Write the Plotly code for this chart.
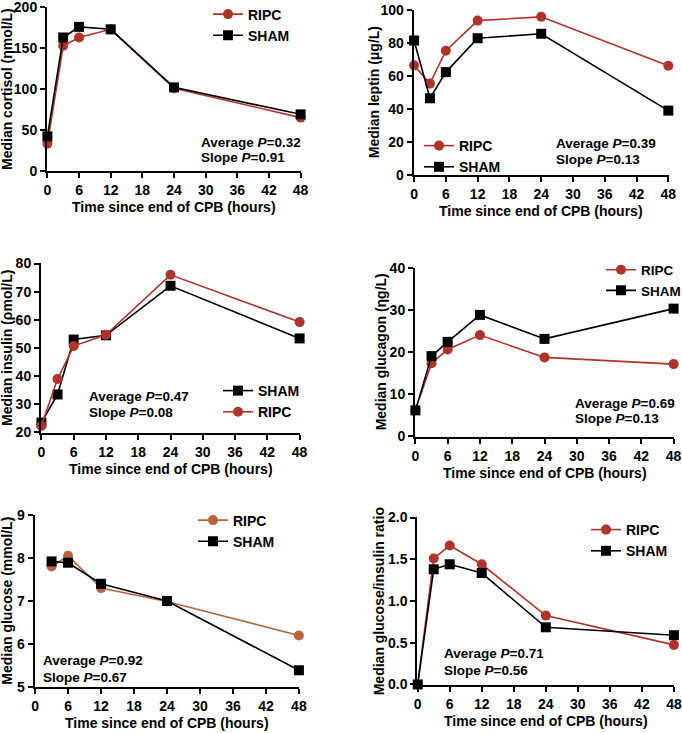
import plotly.graph_objects as go

W, H = 682, 733

# ---------------- data ----------------
hours = [0, 3, 6, 12, 24, 48]
glucose_hours = [3, 6, 12, 24, 48]
x_ticks = [0, 6, 12, 18, 24, 30, 36, 42, 48]

cortisol_ripc = [33, 153, 163, 173, 101, 65]
cortisol_sham = [42, 163, 176, 173, 102, 69]
leptin_ripc = [66.5, 55.4, 75.4, 93.7, 96, 66.3]
leptin_sham = [81.6, 46.5, 62.4, 83, 85.7, 39]
insulin_ripc = [22.4, 39.0, 50.7, 54.7, 76, 59.2]
insulin_sham = [23.5, 33.5, 53, 54.5, 72.1, 53.4]
glucagon_ripc = [6.3, 17.4, 20.7, 24.1, 18.8, 17.2]
glucagon_sham = [6.2, 19.1, 22.5, 28.9, 23.2, 30.4]
glucose_ripc = [7.80, 8.05, 7.30, 6.99, 6.20]
glucose_sham = [7.92, 7.89, 7.40, 7.00, 5.39]
ratio_ripc = [0, 1.51, 1.665, 1.44, 0.825, 0.474]
ratio_sham = [0, 1.38, 1.44, 1.335, 0.685, 0.59]

cortisol_ticks = [0, 50, 100, 150, 200]
leptin_ticks = [0, 20, 40, 60, 80, 100]
insulin_ticks = [20, 30, 40, 50, 60, 70, 80]
glucagon_ticks = [0, 10, 20, 30, 40]
glucose_ticks = [5, 6, 7, 8, 9]
ratio_ticks = [0.0, 0.5, 1.0, 1.5, 2.0]

y_titles = ["Median cortisol (\u03b7mol/L)", "Median leptin (\u03bcg/L)",
            "Median insulin (\u03c1mol/L)", "Median glucagon (\u03b7g/L)",
            "Median glucose (mmol/L)", "Median glucose/insulin ratio"]
x_title = "Time since end of CPB (hours)"
avg_p = ["0.32", "0.39", "0.47", "0.69", "0.92", "0.71"]
slope_p = ["0.91", "0.13", "0.08", "0.13", "0.67", "0.56"]

RED = "#B0332A"
BROWN = "#B9643F"
BLACK = "#000000"
FONT = "Liberation Sans"

# ---------------- layout boxes (pixels) ----------------
panels = [
    dict(box=(47, 301, 7, 171), yt=cortisol_ticks, fmt="", x=hours,
         ripc=cortisol_ripc, sham=cortisol_sham, rc=RED, order="RS",
         leg=(208, -1.5), lfs=14, txt=(199, 142, 157), ytoff=40),
    dict(box=(413.7, 668.7, 10, 175), yt=leptin_ticks, fmt="", x=hours,
         ripc=leptin_ripc, sham=leptin_sham, rc=RED, order="RS",
         leg=(419, 130), lfs=14, txt=(554, 144, 159), ytoff=40),
    dict(box=(41, 300, 263.3, 432.7), yt=insulin_ticks, fmt="", x=hours,
         ripc=insulin_ripc, sham=insulin_sham, rc=RED, order="SR",
         leg=(218, 375), lfs=14, txt=(87, 396, 412), ytoff=34),
    dict(box=(415, 674, 268, 436.7), yt=glucagon_ticks, fmt="", x=hours,
         ripc=glucagon_ripc, sham=glucagon_sham, rc=RED, order="RS",
         leg=(601, 254.5), lfs=13.5, txt=(573, 403, 418), ytoff=34),
    dict(box=(34.7, 299.3, 514.7, 687.3), yt=glucose_ticks, fmt="", x=glucose_hours,
         ripc=glucose_ripc, sham=glucose_sham, rc=BROWN, order="RS",
         leg=(193, 504.5), lfs=14, txt=(41, 660, 677), ytoff=28),
    dict(box=(417.3, 674.3, 517.3, 684.7), yt=ratio_ticks, fmt=".1f", x=hours,
         ripc=ratio_ripc, sham=ratio_sham, rc=RED, order="RS",
         leg=(586, 514), lfs=14, txt=(442, 653, 670), ytoff=38),
]


def padded(lo, hi):
    e = (hi - lo) * 0.0015
    return [lo - e, hi + e]


fig = go.Figure()
annotations = []

for i, p in enumerate(panels):
    n = "" if i == 0 else str(i + 1)
    xa, ya = "x" + n, "y" + n
    lg = "legend" + n
    x0, x1, y0, y1 = p["box"]

    traces = {
        "R": go.Scatter(x=p["x"], y=p["ripc"], name="RIPC", mode="lines+markers",
                        line=dict(color=p["rc"], width=1.6),
                        marker=dict(symbol="circle", size=10, color=p["rc"]),
                        xaxis=xa, yaxis=ya, legend=lg, cliponaxis=False),
        "S": go.Scatter(x=p["x"], y=p["sham"], name="SHAM", mode="lines+markers",
                        line=dict(color=BLACK, width=1.6),
                        marker=dict(symbol="square", size=10, color=BLACK),
                        xaxis=xa, yaxis=ya, legend=lg, cliponaxis=False),
    }
    for k in p["order"]:
        fig.add_trace(traces[k])

    axis_common = dict(showline=True, linewidth=2, linecolor="black", ticks="outside",
                       ticklen=5, tickwidth=2, tickcolor="black", showgrid=False,
                       zeroline=False, fixedrange=True, automargin=False,
                       ticklabeloverflow="allow",
                       tickfont=dict(family=FONT, size=14, color="black", weight="bold"))
    yt = p["yt"]
    fig.update_layout(**{
        "xaxis" + n: dict(domain=[x0 / W, x1 / W], range=padded(x_ticks[0], x_ticks[-1]),
                          tickvals=x_ticks, anchor=ya, **axis_common),
        "yaxis" + n: dict(domain=[1 - y1 / H, 1 - y0 / H], range=padded(yt[0], yt[-1]),
                          tickvals=yt, tickformat=p["fmt"], anchor=xa, **axis_common),
        lg: dict(x=p["leg"][0] / W, y=1 - p["leg"][1] / H, xanchor="left", yanchor="top",
                 bgcolor="rgba(0,0,0,0)", itemwidth=30, tracegroupgap=0,
                 font=dict(family=FONT, size=p["lfs"], color="black", weight="bold")),
    })

    tfont = dict(family=FONT, size=14, color="black", weight="bold")
    annotations.append(dict(text=x_title, xref=xa + " domain", yref=ya + " domain",
                            x=0.5, y=0, xanchor="center", yanchor="middle", yshift=-36,
                            showarrow=False, font=tfont))
    annotations.append(dict(text=y_titles[i], xref=xa + " domain", yref=ya + " domain",
                            x=0, y=0.5, xanchor="center", yanchor="middle",
                            xshift=-p["ytoff"], textangle=-90, showarrow=False, font=tfont))
    tx, ty1, ty2 = p["txt"]
    afont = dict(family=FONT, size=13.5, color="black", weight="bold")
    annotations.append(dict(text="Average <i>P</i>=" + avg_p[i], xref="paper", yref="paper",
                            x=tx / W, y=1 - ty1 / H, xanchor="left", yanchor="middle",
                            showarrow=False, font=afont))
    annotations.append(dict(text="Slope <i>P</i>=" + slope_p[i], xref="paper", yref="paper",
                            x=tx / W, y=1 - ty2 / H, xanchor="left", yanchor="middle",
                            showarrow=False, font=afont))

fig.update_layout(width=W, height=H, margin=dict(l=0, r=0, t=0, b=0, autoexpand=False),
                  paper_bgcolor="white", plot_bgcolor="white",
                  annotations=annotations,
                  font=dict(family=FONT, size=13, color="black", weight="bold"))

fig.write_html("out.html", config={"displayModeBar": False},
               post_script="document.body.style.margin='0';document.body.style.overflow='hidden';")
